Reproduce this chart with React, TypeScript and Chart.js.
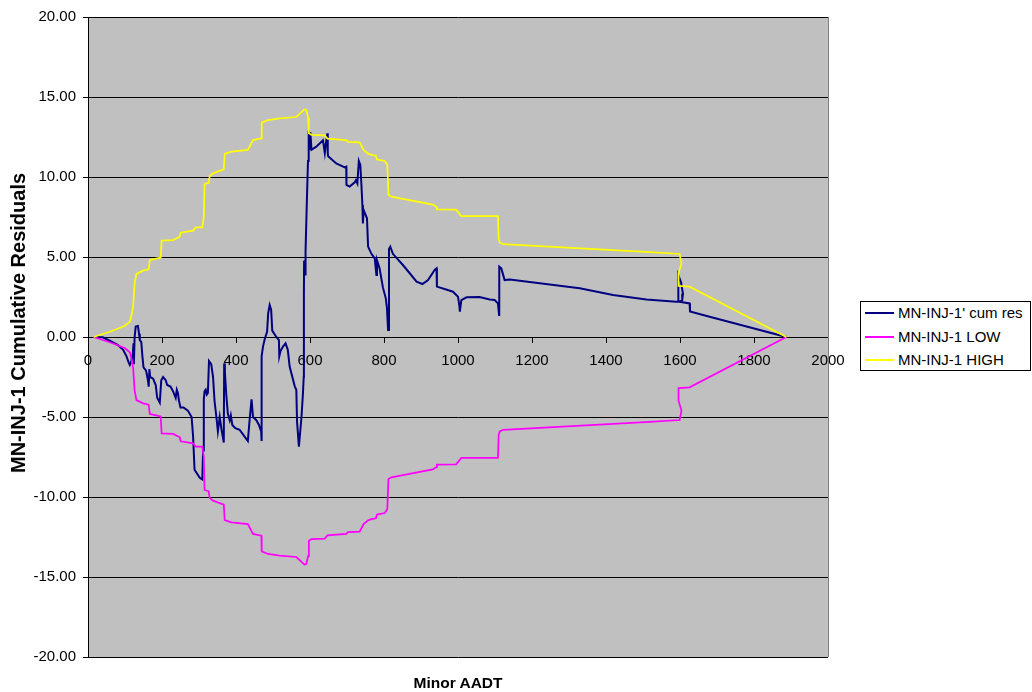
import React, { useEffect, useRef } from "react";
import { Chart, registerables } from "chart.js";

Chart.register(...registerables);

// ---- Data ----
const seriesNames = ["MN-INJ-1' cum res", "MN-INJ-1 LOW", "MN-INJ-1 HIGH"];

const cumResX = [
  15, 40, 60, 81, 95, 104, 110, 113, 117, 121, 123, 124, 126, 129, 135, 138, 140, 144, 147, 150,
  157, 162, 164, 166, 168, 176, 183, 187, 194, 198, 203, 210, 214, 223, 230, 237, 240, 243, 246, 250,
  258, 270, 280, 284, 288, 302, 309, 311, 313, 315, 318, 321, 324, 327, 333, 338, 342, 347, 351, 356,
  361, 367, 368, 370, 374, 378, 383, 386, 390, 398, 410, 432, 436, 442, 446, 455, 462, 468, 469, 469.5,
  473, 478, 484, 487, 491, 495, 498, 509, 516, 517, 520, 527, 534, 540, 545, 559, 563, 565, 570, 577,
  581, 583, 583.5, 584, 586, 587.6, 588, 592, 594.6, 596.5, 599, 601, 604, 617, 635, 640, 644, 647, 648, 649,
  671, 694, 698, 698.5, 707, 721, 724, 728, 732, 736, 739, 741.6, 743, 745, 754, 757, 766, 775, 779.5, 781,
  788, 797, 805, 808, 811, 813.5, 817, 824, 851, 869, 888, 904, 919, 937, 942, 943, 970, 986.5, 1000, 1004,
  1005, 1009, 1023, 1058, 1086, 1099, 1108, 1111, 1111.5, 1117, 1126, 1140, 1329, 1419, 1509, 1590, 1595, 1595.5, 1603, 1608,
  1606, 1598, 1626, 1627, 1680, 1887.5,
];
const cumResY = [
  0, -0.02, -0.25, -0.5, -0.8, -1.2, -1.6, -1.75, -1.5, -1.1, -0.4, -1.7, 0.0, 0.65, 0.69, 0.2, -0.2, -0.3, -1.2, -1.9,
  -2.1, -2.7, -3.1, -2.0, -2.5, -2.6, -3.0, -3.8, -4.1, -2.7, -2.5, -2.7, -3.0, -3.1, -3.4, -3.8, -3.3, -3.5, -4.0, -4.4,
  -4.4, -4.6, -5.0, -6.2, -8.3, -8.8, -8.9, -7.1, -3.9, -3.4, -3.3, -3.6, -3.5, -1.5, -1.7, -2.5, -4.0, -5.0, -5.9, -5.0,
  -5.8, -6.6, -1.65, -2.2, -3.7, -4.8, -5.2, -4.9, -5.5, -5.7, -5.8, -6.5, -5.4, -3.9, -5.0, -5.2, -5.5, -5.9, -6.5, -1.2,
  -0.6, -0.1, 0.33, 1.5, 2.0, 1.7, 0.4, 0.0, -0.2, -1.2, -0.9, -0.6, -0.4, -0.8, -1.85, -3.1, -3.3, -5.3, -6.85, -5.0,
  -3.5, -2.5, 2.6, 4.7, 4.8, 3.9, 5.4, 8.9, 11.0, 12.9, 11.7, 12.8, 11.7, 11.9, 12.3, 11.5, 12.3, 12.73, 11.5, 11.3,
  10.85, 10.6, 10.65, 9.5, 9.4, 9.67, 9.8, 9.6, 11.0, 10.75, 9.5, 8.25, 7.1, 7.94, 7.42, 5.65, 5.2, 4.92, 3.88, 4.8,
  4.29, 3.1, 2.4, 1.8, 0.44, 5.5, 5.65, 5.2, 4.5, 4.0, 3.46, 3.31, 3.56, 4.19, 4.29, 3.15, 2.95, 2.83, 2.52, 1.9,
  1.58, 2.31, 2.48, 2.5, 2.35, 2.31, 2.1, 1.38, 4.4, 4.29, 3.56, 3.6, 3.04, 2.63, 2.35, 2.21, 2.21, 3.87, 3.4, 2.7,
  2.3, 2.2, 2.1, 1.6, 1.27, 0,
];

const highX = [
  15, 59, 99, 113, 118, 122, 126, 131, 149, 164, 167, 196.5, 199, 230, 248, 250.5, 284, 291, 309, 313,
  315, 326, 329, 338, 367, 369.5, 387.5, 432, 446, 468.6, 469.5, 486.5, 518, 563, 572, 585, 590, 595, 597, 604,
  640, 647, 698, 703, 734, 745, 757, 766, 778, 781, 802, 809, 812, 820, 869, 932, 942, 943, 995, 1009,
  1108, 1110, 1113, 1122, 1518, 1599, 1604, 1596, 1596, 1626, 1887.5,
];
const highY = [
  0, 0.33, 0.69, 0.96, 1.4, 1.94, 3.35, 3.94, 4.15, 4.23, 4.81, 4.96, 6.02, 6.06, 6.27, 6.52, 6.65, 6.85, 6.85, 7.52,
  9.56, 9.64, 10.06, 10.23, 10.48, 11.44, 11.58, 11.69, 12.31, 12.42, 13.4, 13.56, 13.67, 13.75, 13.94, 14.22, 14.19, 13.7, 12.73, 12.63,
  12.6, 12.4, 12.31, 12.2, 12.17, 11.69, 11.46, 11.38, 11.33, 11.1, 11.0, 10.75, 8.88, 8.77, 8.56, 8.27, 8.14, 7.98, 7.96, 7.56,
  7.55, 6.1, 5.9, 5.8, 5.3, 5.19, 4.6, 3.98, 3.19, 3.15, 0,
];

const lowX = [
  15, 59, 99, 113, 118, 122, 126, 131, 149, 164, 167, 196.5, 199, 230, 248, 250.5, 284, 291, 309, 313,
  315, 326, 329, 338, 367, 369.5, 387.5, 432, 446, 468.6, 469.5, 486.5, 518, 563, 572, 585, 590, 595, 597, 604,
  640, 647, 698, 703, 734, 745, 757, 766, 778, 781, 802, 809, 812, 820, 869, 932, 942, 943, 995, 1009,
  1108, 1110, 1113, 1122, 1518, 1599, 1604, 1596, 1596, 1626, 1887.5,
];
const lowY = [
  0, -0.33, -0.69, -0.96, -1.4, -1.94, -3.35, -3.94, -4.15, -4.23, -4.81, -4.96, -6.02, -6.06, -6.27, -6.52, -6.65, -6.85, -6.85, -7.52,
  -9.56, -9.64, -10.06, -10.23, -10.48, -11.44, -11.58, -11.69, -12.31, -12.42, -13.4, -13.56, -13.67, -13.75, -13.94, -14.22, -14.19, -13.7, -12.73, -12.63,
  -12.6, -12.4, -12.31, -12.2, -12.17, -11.69, -11.46, -11.38, -11.33, -11.1, -11.0, -10.75, -8.88, -8.77, -8.56, -8.27, -8.14, -7.98, -7.96, -7.56,
  -7.55, -6.1, -5.9, -5.8, -5.3, -5.19, -4.6, -3.98, -3.19, -3.15, 0,
];

const xTitle = "Minor AADT";
const yTitle = "MN-INJ-1 Cumulative Residuals";

const colors = ["#000080", "#FF00FF", "#FFFF00"];
const FONT = "'Liberation Sans', Arial, Helvetica, sans-serif";

const toPoints = (xs: number[], ys: number[]) => xs.map((x, i) => ({ x, y: ys[i] }));

const plotAreaPlugin = {
  id: "plotAreaBg",
  beforeDraw(chart: any) {
    const { ctx, chartArea: a } = chart;
    ctx.save();
    ctx.fillStyle = "#C0C0C0";
    ctx.fillRect(a.left, a.top, a.right - a.left, a.bottom - a.top);
    ctx.restore();
  },
  beforeDatasetsDraw(chart: any) {
    const { ctx, chartArea: a } = chart;
    ctx.save();
    ctx.strokeStyle = "#808080";
    ctx.lineWidth = 1;
    const x = Math.round(a.right) + 0.5;
    ctx.beginPath();
    ctx.moveTo(x, a.top);
    ctx.lineTo(x, a.bottom);
    ctx.stroke();
    ctx.restore();
  },
};

export default function App() {
  const canvasRef = useRef<HTMLCanvasElement | null>(null);

  useEffect(() => {
    if (!canvasRef.current) return;
    const chart = new Chart(canvasRef.current, {
      type: "scatter",
      data: {
        datasets: [
          {
            label: seriesNames[0],
            data: toPoints(cumResX, cumResY),
            borderColor: colors[0],
            backgroundColor: colors[0],
            borderWidth: 2,
            showLine: true,
            pointRadius: 0,
            tension: 0,
            order: 2,
          },
          {
            label: seriesNames[1],
            data: toPoints(lowX, lowY),
            borderColor: colors[1],
            backgroundColor: colors[1],
            borderWidth: 1.75,
            showLine: true,
            pointRadius: 0,
            tension: 0,
            order: 1,
          },
          {
            label: seriesNames[2],
            data: toPoints(highX, highY),
            borderColor: colors[2],
            backgroundColor: colors[2],
            borderWidth: 1.75,
            showLine: true,
            pointRadius: 0,
            tension: 0,
            order: 0,
          },
        ],
      },
      options: {
        responsive: false,
        animation: false,
        events: [],
        layout: { padding: { left: 0, top: 17, right: 204, bottom: 35 } },
        plugins: {
          legend: { display: false },
          tooltip: { enabled: false },
          title: { display: false },
        },
        scales: {
          x: {
            type: "linear",
            position: { y: 0 } as any,
            min: 0,
            max: 2000,
            ticks: {
              stepSize: 200,
              padding: 10,
              color: "#000",
              autoSkip: false,
              maxRotation: 0,
              font: { family: FONT, size: 15 },
              callback: (v: any) => String(v),
            },
            grid: { drawOnChartArea: false, drawTicks: true, tickLength: 5, color: "#000", lineWidth: 1 },
            border: { display: true, color: "#000", width: 1 },
            afterFit: (s: any) => {
              s.paddingLeft = 0;
              s.paddingRight = 0;
            },
          },
          y: {
            type: "linear",
            position: "left",
            min: -20,
            max: 20,
            ticks: {
              stepSize: 5,
              padding: 7,
              color: "#000",
              font: { family: FONT, size: 15 },
              callback: (v: any) => Number(v).toFixed(2),
            },
            grid: { color: "#000", lineWidth: 1, tickLength: 5, drawTicks: true },
            border: { display: true, color: "#000", width: 1 },
            afterFit: (s: any) => {
              s.width = 88;
              s.paddingTop = 0;
              s.paddingBottom = 0;
            },
          },
        },
      },
      plugins: [plotAreaPlugin],
    });
    return () => chart.destroy();
  }, []);

  const rowTops = [0, 23.5, 47];

  return (
    <div style={{ position: "absolute", left: 0, top: 0, width: 1032, height: 692, background: "#fff", overflow: "hidden" }}>
      <canvas ref={canvasRef} width={1032} height={692} style={{ display: "block", width: 1032, height: 692 }} />
      <div
        style={{
          position: "absolute",
          left: 18,
          top: 323,
          transform: "translate(-50%, -50%) rotate(-90deg)",
          whiteSpace: "nowrap",
          fontFamily: FONT,
          fontWeight: "bold",
          fontSize: 20,
          lineHeight: "24px",
          color: "#000",
        }}
      >
        {yTitle}
      </div>
      <div
        style={{
          position: "absolute",
          left: 458,
          top: 683,
          transform: "translate(-50%, -50%)",
          whiteSpace: "nowrap",
          fontFamily: FONT,
          fontWeight: "bold",
          fontSize: 15.5,
          lineHeight: "18px",
          color: "#000",
        }}
      >
        {xTitle}
      </div>
      <div
        style={{
          position: "absolute",
          left: 860,
          top: 301,
          width: 171,
          height: 70,
          boxSizing: "border-box",
          border: "1px solid #000",
          background: "#fff",
        }}
      >
        {seriesNames.map((name, i) => (
          <div key={name} style={{ position: "absolute", left: 0, top: rowTops[i], width: 169, height: 22 }}>
            <div style={{ position: "absolute", left: 4, top: 10, width: 29, height: 2, background: colors[i] }} />
            <div
              style={{
                position: "absolute",
                left: 37,
                top: 2,
                whiteSpace: "nowrap",
                fontFamily: FONT,
                fontSize: 15,
                lineHeight: "18px",
                color: "#000",
              }}
            >
              {name}
            </div>
          </div>
        ))}
      </div>
    </div>
  );
}
